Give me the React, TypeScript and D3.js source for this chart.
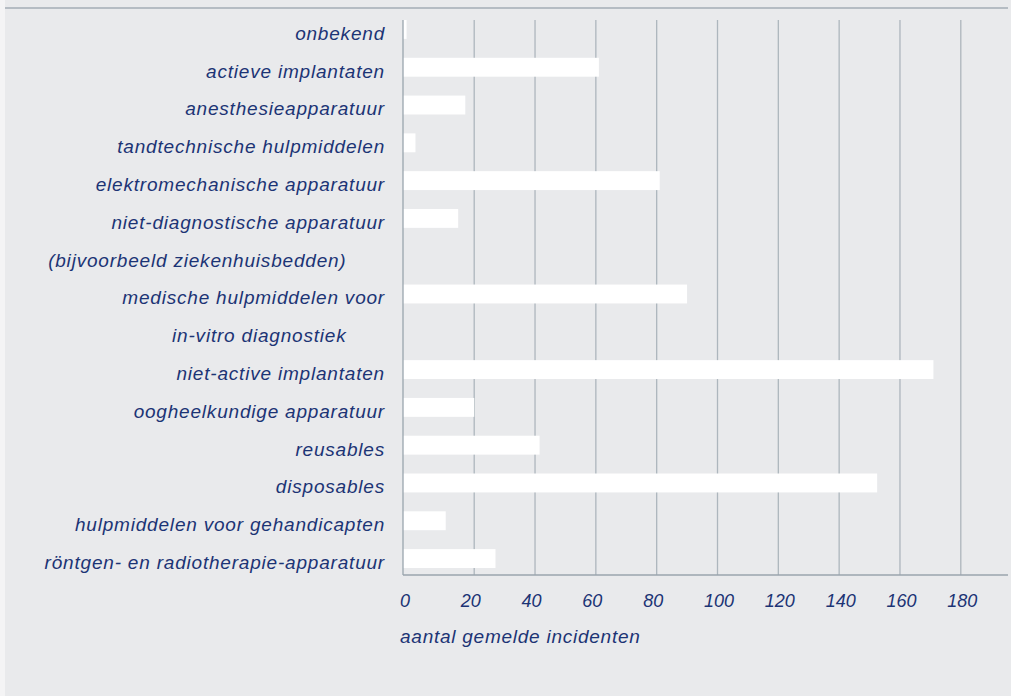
import React, { useEffect, useRef } from 'react';
import * as d3 from 'd3';

// categories top to bottom; "\n" splits a label over two rows
const categories: string[] = [
  'onbekend',
  'actieve implantaten',
  'anesthesieapparatuur',
  'tandtechnische hulpmiddelen',
  'elektromechanische apparatuur',
  'niet-diagnostische apparatuur\n(bijvoorbeeld ziekenhuisbedden)',
  'medische hulpmiddelen voor\nin-vitro diagnostiek',
  'niet-active implantaten',
  'oogheelkundige apparatuur',
  'reusables',
  'disposables',
  'hulpmiddelen voor gehandicapten',
  'röntgen- en radiotherapie-apparatuur',
];

const incidents: number[] = [1, 61, 17.5, 3.5, 81, 15.5, 90, 171, 20, 41.5, 152.5, 12, 27];

const tickValues: number[] = [0, 20, 40, 60, 80, 100, 120, 140, 160, 180];

const axisTitle = 'aantal gemelde incidenten';

const WIDTH = 1011;
const HEIGHT = 696;

const App: React.FC = () => {
  const svgRef = useRef<SVGSVGElement>(null);

  useEffect(() => {
    if (!svgRef.current) return;
    const svg = d3.select(svgRef.current);
    svg.selectAll('*').remove();

    const textColor = '#1c3475';
    const font = '"Liberation Sans", Arial, sans-serif';

    // one row per label line
    const rows: { cat: number; line: number; text: string }[] = [];
    categories.forEach((c, i) => {
      c.split('\n').forEach((t, j) => rows.push({ cat: i, line: j, text: t }));
    });

    const top = 20;
    const axisY = 575;
    const axisX = 403;

    const y = d3.scaleBand<number>()
      .domain(rows.map((_, i) => i))
      .range([top, 568])
      .paddingInner(0.5)
      .paddingOuter(0);

    // tick labels sit on a plain linear scale
    const xTick = d3.scaleLinear().domain([20, 180]).range([474.2, 960.8]);
    // the 0-20 span is drawn wider, from the axis line
    const x = d3.scaleLinear().domain([0, 20, 180]).range([axisX, xTick(20), xTick(180)]);

    // background
    svg.append('rect')
      .attr('width', WIDTH).attr('height', HEIGHT)
      .attr('fill', '#f4f4f5');
    svg.append('rect')
      .attr('x', 5).attr('width', WIDTH - 5).attr('height', HEIGHT)
      .attr('fill', '#e9eaec');

    // top rule
    svg.append('line')
      .attr('x1', 5).attr('x2', 1008)
      .attr('y1', 8).attr('y2', 8)
      .attr('stroke', '#a3adb6').attr('stroke-width', 1.5);

    // gridlines
    svg.append('g')
      .selectAll('line')
      .data(tickValues.filter(v => v > 0))
      .enter()
      .append('line')
      .attr('x1', d => x(d)).attr('x2', d => x(d))
      .attr('y1', top).attr('y2', axisY)
      .attr('stroke', '#adb6bd').attr('stroke-width', 1.3);

    // bars
    const barRows = rows.filter(r => r.line === 0);
    svg.append('g')
      .selectAll('rect')
      .data(barRows)
      .enter()
      .append('rect')
      .attr('x', axisX)
      .attr('y', d => y(rows.indexOf(d))!)
      .attr('width', d => x(incidents[d.cat]) - axisX)
      .attr('height', y.bandwidth())
      .attr('fill', '#ffffff');

    // axes lines
    svg.append('line')
      .attr('x1', axisX).attr('x2', axisX)
      .attr('y1', top).attr('y2', axisY)
      .attr('stroke', '#9aa5ae').attr('stroke-width', 1.3);
    svg.append('line')
      .attr('x1', axisX).attr('x2', 1008)
      .attr('y1', axisY).attr('y2', axisY)
      .attr('stroke', '#9aa5ae').attr('stroke-width', 1.3);

    // category labels
    svg.append('g')
      .selectAll('text')
      .data(rows)
      .enter()
      .append('text')
      .attr('x', d => (d.line === 0 ? 385 : 346.5))
      .attr('y', (d, i) => y(i)! + y.bandwidth() + 1)
      .attr('text-anchor', 'end')
      .attr('font-family', font)
      .attr('font-style', 'italic')
      .attr('font-size', '19px')
      .attr('letter-spacing', '0.8px')
      .attr('fill', textColor)
      .text(d => d.text);

    // tick labels
    svg.append('g')
      .selectAll('text')
      .data(tickValues)
      .enter()
      .append('text')
      .attr('x', d => xTick(d) - 13.5)
      .attr('y', 607)
      .attr('text-anchor', 'start')
      .attr('font-family', font)
      .attr('font-style', 'italic')
      .attr('font-size', '18px')
      .attr('fill', textColor)
      .text(d => String(d));

    // axis title
    svg.append('text')
      .attr('x', 400)
      .attr('y', 643)
      .attr('font-family', font)
      .attr('font-style', 'italic')
      .attr('font-size', '19px')
      .attr('letter-spacing', '0.75px')
      .attr('fill', textColor)
      .text(axisTitle);
  }, []);

  return (
    <svg
      ref={svgRef}
      width={WIDTH}
      height={HEIGHT}
      style={{ position: 'absolute', left: 0, top: 0, display: 'block' }}
    />
  );
};

export default App;
